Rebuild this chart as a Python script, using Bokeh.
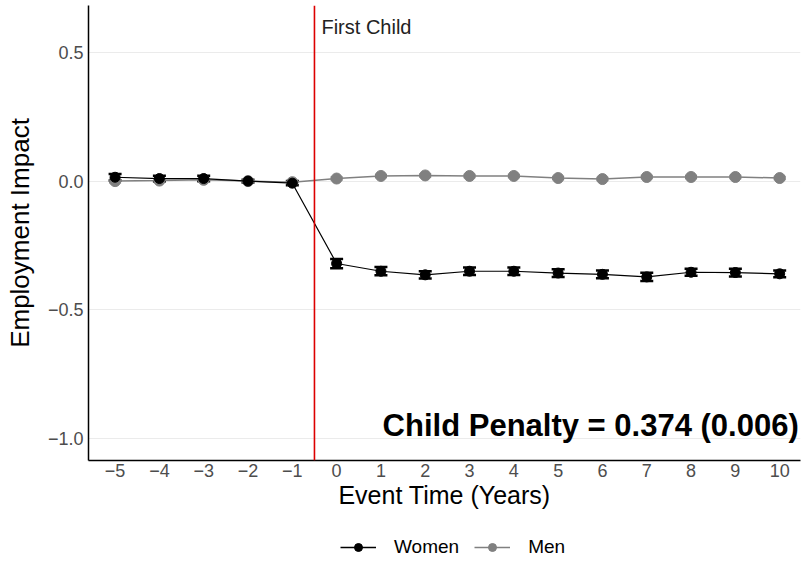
from bokeh.plotting import figure
from bokeh.layouts import column
from bokeh.models import (ColumnDataSource, Whisker, Span, Label, Legend, LegendItem,
                          FixedTicker, Range1d)
from bokeh.embed import file_html
from bokeh.resources import INLINE

event_time = [-5, -4, -3, -2, -1, 0, 1, 2, 3, 4, 5, 6, 7, 8, 9, 10]
women = [0.015, 0.010, 0.010, 0.000, -0.008, -0.320, -0.350, -0.364, -0.350, -0.350,
         -0.357, -0.362, -0.372, -0.354, -0.355, -0.360]
women_se = [0.013, 0.011, 0.011, 0.005, 0.008, 0.018, 0.016, 0.014, 0.015, 0.015,
            0.015, 0.015, 0.016, 0.014, 0.015, 0.013]
men = [0.000, 0.002, 0.005, 0.000, -0.004, 0.010, 0.020, 0.022, 0.020, 0.020,
       0.012, 0.008, 0.016, 0.016, 0.016, 0.012]
men_se = [0.005, 0.005, 0.005, 0.004, 0.004, 0.005, 0.005, 0.005, 0.005, 0.005,
          0.005, 0.005, 0.005, 0.005, 0.005, 0.005]
y_ticks = [-1.0, -0.5, 0.0, 0.5]
y_tick_labels = ["\u22121.0", "\u22120.5", "0.0", "0.5"]
x_tick_labels = [("\u2212" + str(-t)) if t < 0 else str(t) for t in event_time]
event_x = -0.5
event_label = "First Child"
penalty_text = "Child Penalty = 0.374 (0.006)"

FONT = "Liberation Sans"

p = figure(width=802, height=514, output_backend="svg", toolbar_location=None,
           x_range=Range1d(-5.6, 10.47), y_range=Range1d(-1.085, 0.682),
           min_border_left=88, min_border_right=2, min_border_top=5, min_border_bottom=54)
p.outline_line_color = None
p.background_fill_color = "white"

women_src = ColumnDataSource(dict(x=event_time, y=women,
                                  lo=[v - s for v, s in zip(women, women_se)],
                                  hi=[v + s for v, s in zip(women, women_se)]))
men_src = ColumnDataSource(dict(x=event_time, y=men,
                                lo=[v - s for v, s in zip(men, men_se)],
                                hi=[v + s for v, s in zip(men, men_se)]))

# grid
p.xgrid.grid_line_color = None
p.ygrid.grid_line_color = "#ebebeb"
p.ygrid.grid_line_width = 1.2
p.ygrid.ticker = FixedTicker(ticks=y_ticks)

# men
ml = p.line("x", "y", source=men_src, line_color="#808080", line_width=1.5)
mc = p.scatter("x", "y", source=men_src, size=11, fill_color="#808080", line_color="#808080")
mw = Whisker(source=men_src, base="x", lower="lo", upper="hi", line_color="#808080",
             line_width=1.5)
for h in (mw.upper_head, mw.lower_head):
    h.size = 12
    h.line_color = "#808080"
    h.line_width = 2
p.add_layout(mw)

# women
wl = p.line("x", "y", source=women_src, line_color="black", line_width=1.2)
wc = p.scatter("x", "y", source=women_src, size=10, fill_color="black", line_color="black")
ww = Whisker(source=women_src, base="x", lower="lo", upper="hi", line_color="black",
             line_width=2)
for h in (ww.upper_head, ww.lower_head):
    h.size = 13
    h.line_color = "black"
    h.line_width = 2.5
p.add_layout(ww)

# event line
p.add_layout(Span(location=event_x, dimension="height", line_color="#dd0000", line_width=1.6))
p.add_layout(Label(x=event_x, y=0.6, x_offset=7, text=event_label, text_font=FONT,
                   text_font_size="20px", text_color="#222222", text_baseline="middle"))

p.add_layout(Label(x=10.43, y=-0.95, text=penalty_text, text_font=FONT,
                   text_font_size="31px", text_font_style="bold", text_color="black",
                   text_align="right", text_baseline="middle"))

# axes
p.xaxis.ticker = FixedTicker(ticks=event_time)
p.xaxis.major_label_overrides = {t: l for t, l in zip(event_time, x_tick_labels)}
p.yaxis.ticker = FixedTicker(ticks=y_ticks)
p.yaxis.major_label_overrides = {t: l for t, l in zip(y_ticks, y_tick_labels)}
for ax in (p.xaxis[0], p.yaxis[0]):
    ax.axis_line_color = "black"
    ax.axis_line_width = 1.5
    ax.major_tick_line_color = None
    ax.minor_tick_line_color = None
    ax.major_tick_out = 0
    ax.major_tick_in = 0
    ax.major_label_text_font = FONT
    ax.major_label_text_font_size = "18px"
    ax.major_label_text_color = "#4d4d4d"
    ax.axis_label_text_font = FONT
    ax.axis_label_text_font_style = "normal"
    ax.axis_label_text_color = "black"
p.xaxis.axis_label_text_font_size = "25px"
p.yaxis.axis_label_text_font_size = "26px"
p.xaxis.axis_label = "Event Time (Years)"
p.yaxis.axis_label = "Employment Impact"
p.xaxis.major_label_standoff = 3
p.yaxis.major_label_standoff = 5
p.xaxis.axis_label_standoff = 1
p.yaxis.axis_label_standoff = 10

# legend strip below the chart (same series, drawn outside its own visible range)
lf = figure(width=802, height=46, output_backend="svg", toolbar_location=None,
            x_range=Range1d(1000, 1001), y_range=Range1d(1000, 1001),
            min_border_left=0, min_border_right=0, min_border_top=0, min_border_bottom=0)
lf.axis.visible = False
lf.grid.visible = False
lf.outline_line_color = None
lwl = lf.line("x", "y", source=women_src, line_color="black", line_width=1.6)
lwc = lf.scatter("x", "y", source=women_src, size=9, fill_color="black", line_color="black")
lml = lf.line("x", "y", source=men_src, line_color="#808080", line_width=1.6)
lmc = lf.scatter("x", "y", source=men_src, size=9, fill_color="#808080", line_color="#808080")
legend = Legend(items=[LegendItem(label="Women", renderers=[lwl, lwc]),
                       LegendItem(label="Men", renderers=[lml, lmc])],
                orientation="horizontal", location=(252, 2),
                label_text_font=FONT, label_text_font_size="19px",
                label_text_color="black", border_line_color=None,
                background_fill_alpha=0, glyph_width=36, glyph_height=20,
                label_height=20, label_standoff=18, spacing=15,
                padding=0, margin=0)
lf.add_layout(legend)

layout = column(p, lf, spacing=0)
open("out.html", "w").write(file_html(layout, INLINE))
